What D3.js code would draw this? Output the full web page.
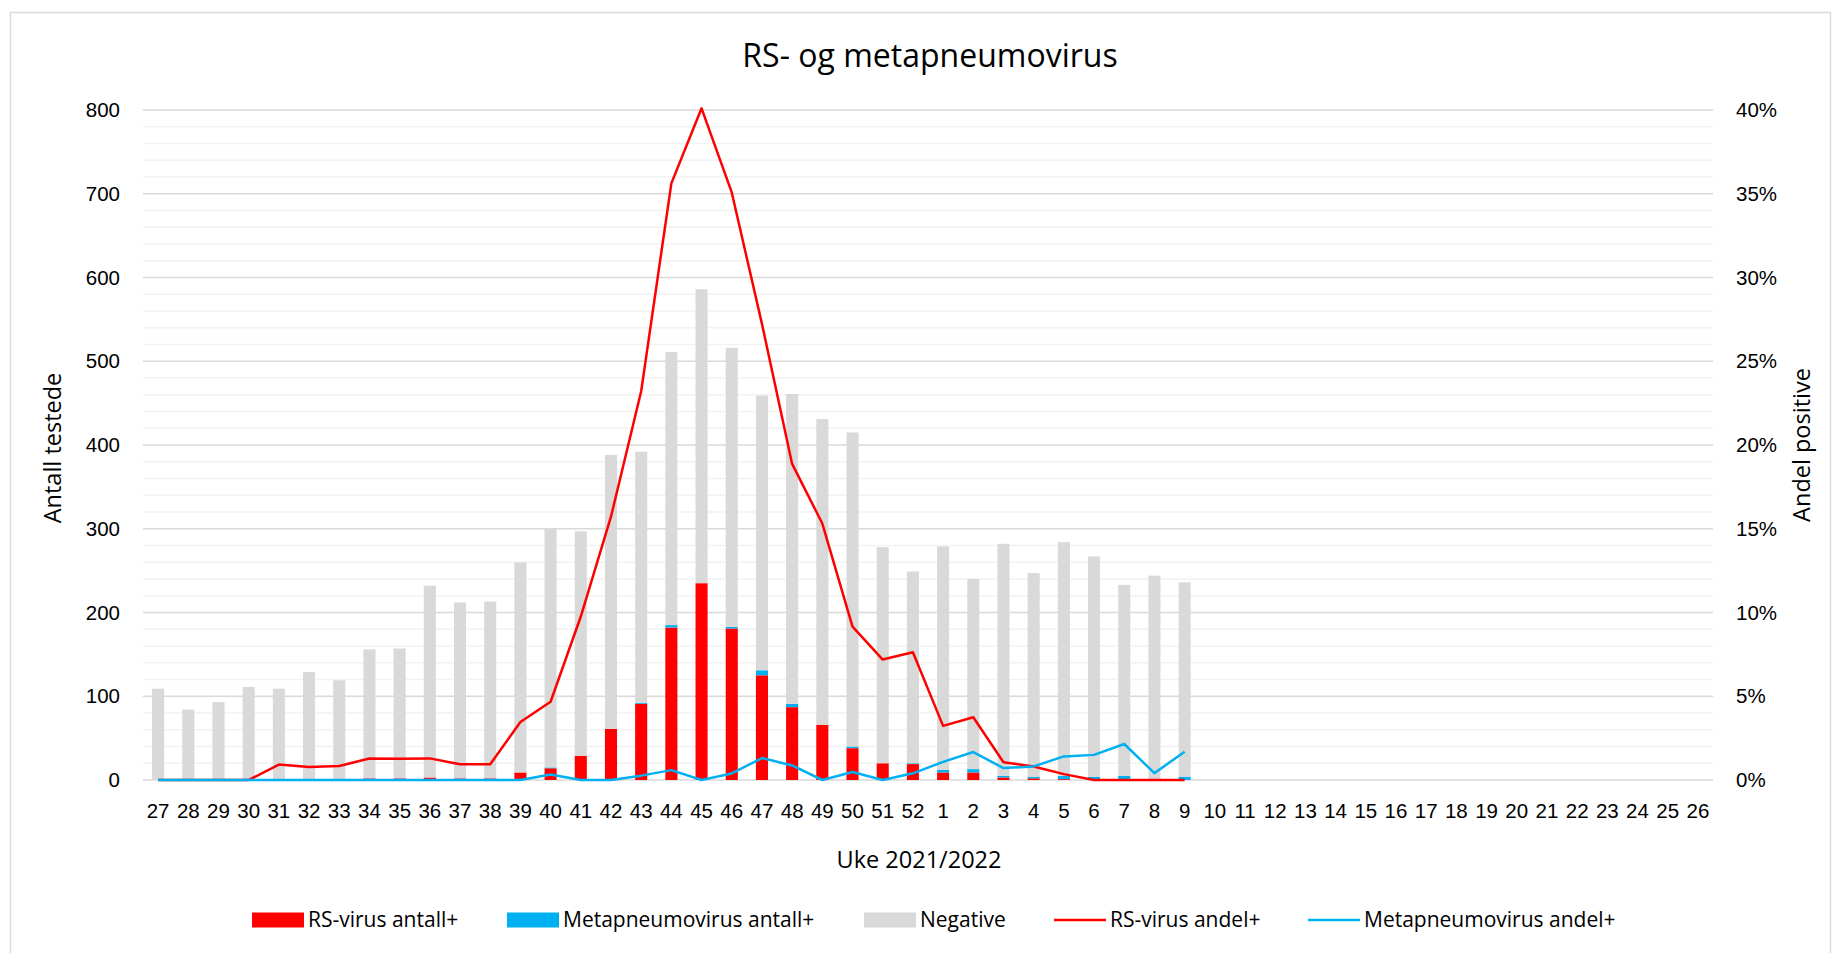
<!DOCTYPE html>
<html lang="no">
<head>
  <meta charset="utf-8"/>
  <title>RS- og metapneumovirus</title>
  <style>
    html, body { margin: 0; padding: 0; background: #fff; }
    svg { display: block; font-family: "Open Sans", "Noto Sans", sans-serif; }
    .tick text { fill: #000; }
  </style>
</head>
<body>

<svg id="chart" width="1833" height="953"></svg>

<script src="https://cdn.jsdelivr.net/npm/d3@7/dist/d3.min.js"></script>
<script>

  // weeks 27..52 of 2021 and 1..26 of 2022
  let weeks = [
    '27', '28', '29', '30', '31', '32', '33', '34', '35', '36', '37', '38', '39',
    '40', '41', '42', '43', '44', '45', '46', '47', '48', '49', '50', '51', '52',
    '1', '2', '3', '4', '5', '6', '7', '8', '9', '10', '11', '12', '13',
    '14', '15', '16', '17', '18', '19', '20', '21', '22', '23', '24', '25', '26'
  ];

  // counts, only weeks 27..9 have data
  let rsCount = [
    0, 0, 0, 0, 1, 1, 1, 2, 2, 3, 2, 2, 9,
    14, 29, 61, 91, 182, 235, 181, 125, 87, 66, 38, 20, 19,
    9, 9, 3, 2, 1, 0, 0, 0, 0
  ];
  let metaCount = [
    0, 0, 0, 0, 0, 0, 0, 0, 0, 0, 0, 0, 0,
    1, 0, 0, 1, 3, 0, 2, 6, 4, 0, 2, 0, 1,
    3, 4, 2, 2, 4, 4, 5, 1, 4
  ];
  let negativeCount = [
    109, 84, 93, 111, 108, 128, 118, 154, 155, 229, 210, 211, 251,
    285, 268, 327, 300, 326, 351, 333, 328, 370, 365, 375, 258, 229,
    267, 227, 277, 243, 279, 263, 228, 243, 232
  ];

  // share positive, in percent
  let rsShare = [
    0, 0, 0, 0, 0.92, 0.78, 0.84, 1.28, 1.27, 1.29, 0.94, 0.94, 3.46,
    4.67, 9.76, 15.72, 23.21, 35.62, 40.1, 35.08, 27.23, 18.87, 15.31, 9.16, 7.19, 7.63,
    3.23, 3.75, 1.06, 0.81, 0.35, 0, 0, 0, 0
  ];
  let metaShare = [
    0, 0, 0, 0, 0, 0, 0, 0, 0, 0, 0, 0, 0,
    0.33, 0, 0, 0.26, 0.59, 0, 0.39, 1.31, 0.87, 0, 0.48, 0, 0.40,
    1.08, 1.67, 0.71, 0.81, 1.41, 1.50, 2.15, 0.41, 1.69
  ];

  let leftTicks = [0, 100, 200, 300, 400, 500, 600, 700, 800];
  let rightTicks = [0, 0.05, 0.10, 0.15, 0.20, 0.25, 0.30, 0.35, 0.40];

  let colors = {
    rs: '#ff0000',
    meta: '#00b0f0',
    negative: '#d9d9d9'
  };

  let margin = {left: 143, right: 1713, top: 110, bottom: 780};
  let svg = d3.select('#chart');

  // chart frame
  svg.append('rect')
    .attr('x', 10.5).attr('y', 12.5)
    .attr('width', 1820).attr('height', 960)
    .attr('fill', 'none')
    .attr('stroke', '#d9d9d9')
    .attr('stroke-width', 1.5);

  let x = d3.scaleBand()
    .domain(weeks)
    .range([margin.left, margin.right])
    .paddingInner(0.6)
    .paddingOuter(0.3);

  let yCount = d3.scaleLinear().domain([0, 800]).range([margin.bottom, margin.top]);
  let yShare = d3.scaleLinear().domain([0, 0.4]).range([margin.bottom, margin.top]);

  // gridlines: minor every 20, major every 100
  let minor = d3.range(20, 800, 20).filter(v => v % 100 !== 0);
  svg.append('g')
    .selectAll('line')
    .data(minor)
    .enter()
    .append('line')
    .attr('x1', margin.left).attr('x2', margin.right)
    .attr('y1', d => yCount(d)).attr('y2', d => yCount(d))
    .attr('stroke', '#f2f2f2')
    .attr('stroke-width', 1.5);

  svg.append('g')
    .selectAll('line')
    .data(leftTicks)
    .enter()
    .append('line')
    .attr('x1', margin.left).attr('x2', margin.right)
    .attr('y1', d => yCount(d)).attr('y2', d => yCount(d))
    .attr('stroke', '#d9d9d9')
    .attr('stroke-width', 1.5);

  // stacked bars
  let rows = rsCount.map((rs, i) => ({
    week: weeks[i],
    rs: rs,
    meta: metaCount[i],
    negative: negativeCount[i]
  }));
  let stack = d3.stack().keys(['rs', 'meta', 'negative']);
  let series = stack(rows);

  svg.append('g')
    .selectAll('g')
    .data(series)
    .enter()
    .append('g')
    .attr('fill', s => colors[s.key])
    .selectAll('rect')
    .data(s => s)
    .enter()
    .append('rect')
    .attr('x', d => x(d.data.week))
    .attr('width', x.bandwidth())
    .attr('y', d => yCount(d[1]))
    .attr('height', d => yCount(d[0]) - yCount(d[1]));

  // share lines
  let line = d3.line()
    .x((d, i) => x(weeks[i]) + x.bandwidth() / 2)
    .y(d => yShare(d / 100));

  svg.append('path')
    .datum(rsShare)
    .attr('d', line)
    .attr('fill', 'none')
    .attr('stroke', colors.rs)
    .attr('stroke-width', 2.5)
    .attr('stroke-linejoin', 'round');

  svg.append('path')
    .datum(metaShare)
    .attr('d', line)
    .attr('fill', 'none')
    .attr('stroke', colors.meta)
    .attr('stroke-width', 2.5)
    .attr('stroke-linejoin', 'round');

  // axes
  let tickFont = '20.5px';

  let xAxis = svg.append('g')
    .attr('transform', `translate(0,${margin.bottom})`)
    .call(d3.axisBottom(x).tickSize(0).tickPadding(23));
  xAxis.select('.domain').remove();
  xAxis.selectAll('text').style('font-size', tickFont);

  let leftAxis = svg.append('g')
    .attr('transform', `translate(${margin.left},0)`)
    .call(d3.axisLeft(yCount).tickValues(leftTicks).tickSize(0).tickPadding(23));
  leftAxis.select('.domain').remove();
  leftAxis.selectAll('text').style('font-size', tickFont);

  let rightAxis = svg.append('g')
    .attr('transform', `translate(${margin.right},0)`)
    .call(d3.axisRight(yShare).tickValues(rightTicks).tickFormat(d3.format('.0%')).tickSize(0).tickPadding(23));
  rightAxis.select('.domain').remove();
  rightAxis.selectAll('text').style('font-size', tickFont);

  // titles
  svg.append('text')
    .attr('x', 930).attr('y', 67)
    .attr('text-anchor', 'middle')
    .style('font-size', '32px')
    .text('RS- og metapneumovirus');

  svg.append('text')
    .attr('x', 919).attr('y', 860)
    .attr('dy', '0.35em')
    .attr('text-anchor', 'middle')
    .style('font-size', '23.5px')
    .text('Uke 2021/2022');

  svg.append('text')
    .attr('transform', 'translate(53,448) rotate(-90)')
    .attr('dy', '0.35em')
    .attr('text-anchor', 'middle')
    .style('font-size', '23.5px')
    .text('Antall testede');

  svg.append('text')
    .attr('transform', 'translate(1802,445) rotate(-90)')
    .attr('dy', '0.35em')
    .attr('text-anchor', 'middle')
    .style('font-size', '23.5px')
    .text('Andel positive');

  // legend
  let legendItems = [
    {label: 'RS-virus antall+', color: colors.rs, type: 'bar', x: 252},
    {label: 'Metapneumovirus antall+', color: colors.meta, type: 'bar', x: 507},
    {label: 'Negative', color: colors.negative, type: 'bar', x: 864},
    {label: 'RS-virus andel+', color: colors.rs, type: 'line', x: 1054},
    {label: 'Metapneumovirus andel+', color: colors.meta, type: 'line', x: 1308}
  ];
  let legendY = 920;

  let legend = svg.append('g')
    .selectAll('g')
    .data(legendItems)
    .enter()
    .append('g')
    .attr('transform', d => `translate(${d.x},${legendY})`);

  legend.filter(d => d.type === 'bar')
    .append('rect')
    .attr('x', 0).attr('y', -7.5)
    .attr('width', 52).attr('height', 15)
    .attr('fill', d => d.color);

  legend.filter(d => d.type === 'line')
    .append('line')
    .attr('x1', 0).attr('x2', 52)
    .attr('y1', 0).attr('y2', 0)
    .attr('stroke', d => d.color)
    .attr('stroke-width', 2.5);

  legend.append('text')
    .attr('x', 56)
    .attr('dy', '0.35em')
    .style('font-size', '21px')
    .text(d => d.label);

</script>

</body>
</html>
